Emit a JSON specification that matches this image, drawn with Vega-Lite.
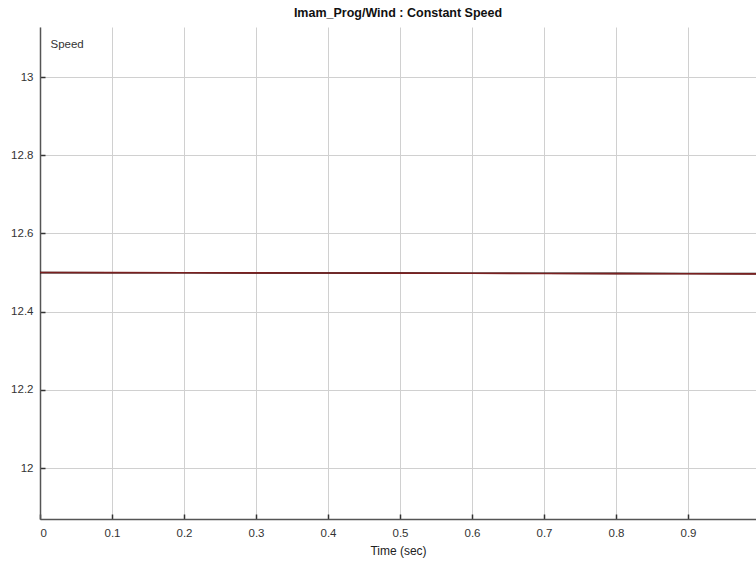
{
  "$schema": "https://vega.github.io/schema/vega-lite/v6.json",
  "width": 716,
  "height": 492,
  "autosize": "none",
  "padding": {"left": 40, "top": 27, "right": 0, "bottom": 45},
  "background": "white",
  "title": {"text": "Imam_Prog/Wind : Constant Speed", "font": "Liberation Sans", "fontSize": 12.5, "fontWeight": "bold", "color": "#111111", "offset": 8, "anchor": "middle"},
  "config": {
    "view": {"stroke": null},
    "axis": {"labelFont": "Liberation Sans", "titleFont": "Liberation Sans", "labelFontSize": 11.5, "labelColor": "#333333", "gridColor": "#d0d0d0", "gridWidth": 1, "domainColor": "#555555", "domainWidth": 1.5, "tickColor": "#333333", "tickWidth": 1.5, "tickSize": -5}
  },
  "data": {"values": [
    {"t": 0.0, "v": 12.5, "s": "a"},
    {"t": 0.1, "v": 12.4998, "s": "a"},
    {"t": 0.2, "v": 12.4995, "s": "a"},
    {"t": 0.3, "v": 12.4993, "s": "a"},
    {"t": 0.4, "v": 12.499, "s": "a"},
    {"t": 0.5, "v": 12.4988, "s": "a"},
    {"t": 0.6, "v": 12.4985, "s": "a"},
    {"t": 0.7, "v": 12.4983, "s": "a"},
    {"t": 0.8, "v": 12.498, "s": "a"},
    {"t": 0.9, "v": 12.4977, "s": "a"},
    {"t": 0.995, "v": 12.4975, "s": "a"},
    {"t": 0.0, "v": 12.5003, "s": "b"},
    {"t": 0.1, "v": 12.5, "s": "b"},
    {"t": 0.2, "v": 12.4996, "s": "b"},
    {"t": 0.3, "v": 12.4993, "s": "b"},
    {"t": 0.4, "v": 12.4989, "s": "b"},
    {"t": 0.5, "v": 12.4986, "s": "b"},
    {"t": 0.6, "v": 12.4982, "s": "b"},
    {"t": 0.7, "v": 12.4978, "s": "b"},
    {"t": 0.8, "v": 12.4975, "s": "b"},
    {"t": 0.9, "v": 12.4971, "s": "b"},
    {"t": 0.995, "v": 12.4968, "s": "b"}
  ]},
  "mark": {"type": "line", "strokeWidth": 1.6, "clip": true},
  "encoding": {
    "x": {"field": "t", "type": "quantitative", "scale": {"domain": [0, 0.9944], "nice": false, "zero": false},
      "axis": {"values": [0, 0.1, 0.2, 0.3, 0.4, 0.5, 0.6, 0.7, 0.8, 0.9], "format": "~g", "title": "Time (sec)", "titleFontSize": 12, "titleFontWeight": "normal", "titleColor": "#222222", "labelPadding": 13, "titlePadding": 7, "grid": true}},
    "y": {"field": "v", "type": "quantitative", "scale": {"domain": [11.87, 13.128], "nice": false, "zero": false},
      "axis": {"values": [12, 12.2, 12.4, 12.6, 12.8, 13], "format": "~g", "title": "Speed", "titleAngle": 0, "titleAlign": "left", "titleBaseline": "middle", "titleX": 10, "titleY": 17, "titleFontSize": 11.5, "titleFontWeight": "normal", "titleColor": "#333333", "labelPadding": 12, "grid": true}},
    "color": {"field": "s", "type": "nominal", "scale": {"domain": ["a", "b"], "range": ["#1a1a1a", "#7a2020"]}, "legend": null}
  }
}
